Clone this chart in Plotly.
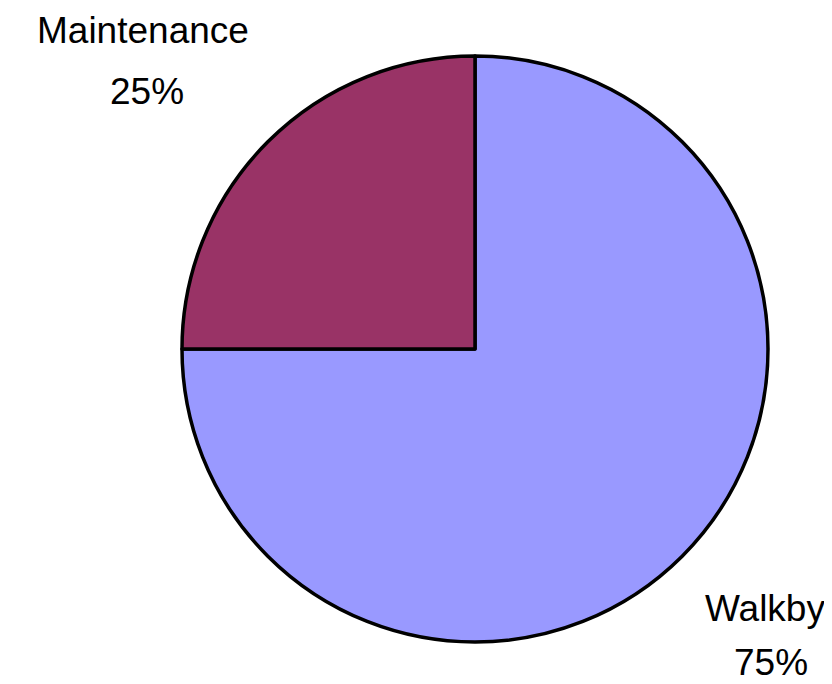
import plotly.graph_objects as go

labels = ["Walkby", "Maintenance"]
values = [75, 25]
colors = ["#9999FF", "#993366"]

W, H = 832, 684
cx, cy, r = 467, 341, 293

fig = go.Figure(go.Pie(
    labels=labels, values=values, sort=False, direction="clockwise",
    rotation=0, textinfo="none", hoverinfo="label+percent",
    marker=dict(colors=colors, line=dict(color="black", width=3.5)),
    domain=dict(x=[(cx - r) / W, (cx + r) / W], y=[(H - cy - r) / H, (H - cy + r) / H]),
    showlegend=False,
))

total = sum(values)
label_pos = {"Maintenance": [(135, 22), (139, 84)], "Walkby": [(757, 600), (763, 654)]}
font = dict(family="Liberation Sans, Arial, sans-serif", size=37, color="black")
for lab, v in zip(labels, values):
    (x1, y1), (x2, y2) = label_pos[lab]
    pct = f"{round(100 * v / total)}%"
    for (x, y), t in [((x1, y1), lab), ((x2, y2), pct)]:
        fig.add_annotation(x=x / W, y=1 - y / H, xref="paper", yref="paper",
                           text=t, showarrow=False, xanchor="center", yanchor="middle",
                           font=font, borderpad=0)

fig.update_layout(width=W, height=H, margin=dict(l=0, r=0, t=0, b=0),
                  paper_bgcolor="white", plot_bgcolor="white")
fig.write_html("out.html")
